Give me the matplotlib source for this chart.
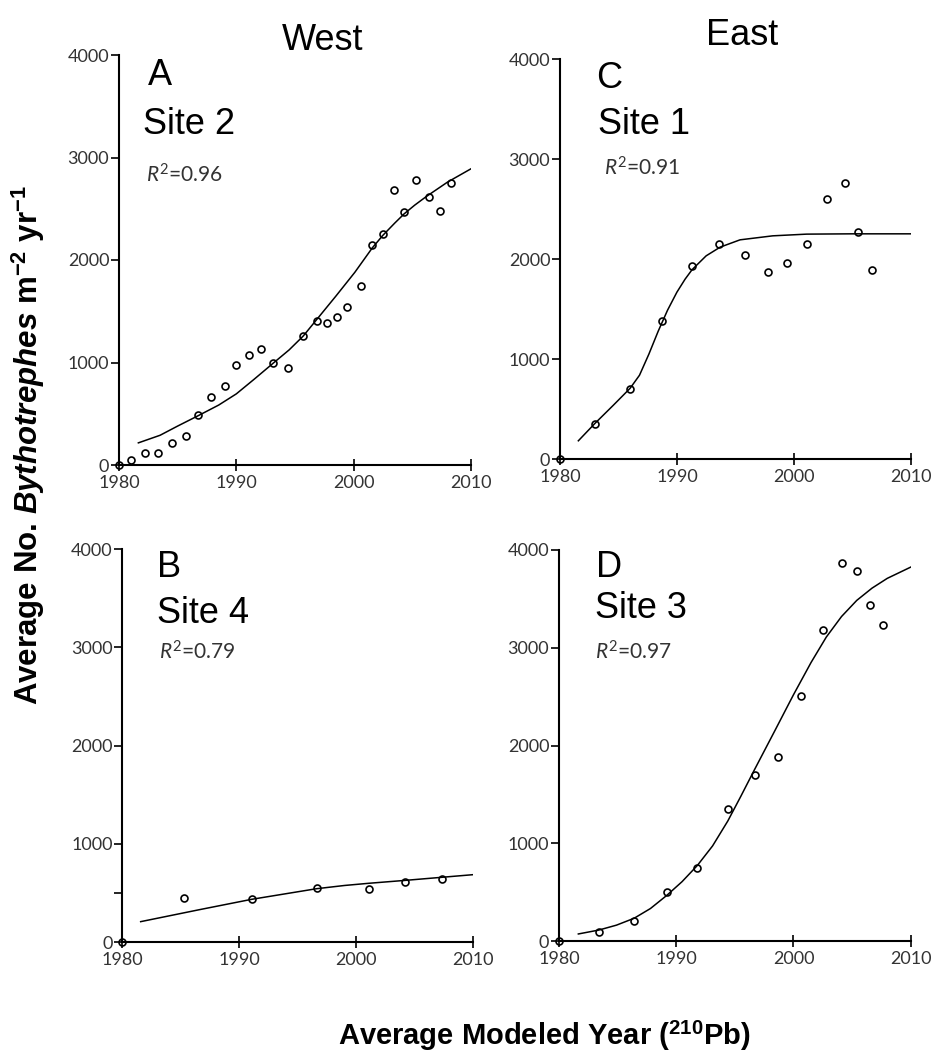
import matplotlib
matplotlib.use('Agg')
import matplotlib.pyplot as plt

plt.rcParams['font.family'] = ['Lato', 'DejaVu Sans']
plt.rcParams['mathtext.fontset'] = 'custom'
plt.rcParams['mathtext.rm'] = 'Lato'
plt.rcParams['mathtext.it'] = 'Lato:italic'
plt.rcParams['mathtext.bf'] = 'Liberation Sans:bold'
plt.rcParams['mathtext.bfit'] = 'Liberation Sans:italic:bold'

# --- data ---
# A, Site 2 (West)
a_year = [1980.0, 1981.0, 1982.2, 1983.3, 1984.5, 1985.7, 1986.7, 1987.8, 1989.0, 1990.0,
          1991.1, 1992.1, 1993.1, 1994.4, 1995.7, 1996.9, 1997.7, 1998.6, 1999.4, 2000.6,
          2001.6, 2002.5, 2003.4, 2004.3, 2005.3, 2006.4, 2007.4, 2008.3]
a_count = [0, 48, 120, 120, 210, 282, 486, 667, 768, 980,
           1069, 1132, 998, 946, 1254, 1402, 1383, 1443, 1540, 1746,
           2150, 2258, 2686, 2471, 2776, 2610, 2478, 2748]
a_fit_year = [1981.65, 1983.5, 1985.0, 1986.8, 1988.5, 1990.0, 1991.5, 1993.15, 1994.5, 1995.7,
              1997.0, 1998.5, 2000.1, 2001.6, 2002.5, 2003.5, 2004.3, 2005.2, 2006.2, 2008.0, 2010.0]
a_fit = [216, 290, 380, 484, 585, 694, 835, 994, 1123, 1258,
         1440, 1650, 1880, 2120, 2242, 2360, 2450, 2535, 2620, 2760, 2890]

# B, Site 4 (West)
b_year = [1980.0, 1985.3, 1991.05, 1996.6, 2001.05, 2004.2, 2007.3]
b_count = [0, 447, 437, 549, 542, 617, 641]
b_fit_year = [1981.57, 1986.6, 1991.05, 1996.6, 1999.0, 2001.05, 2004.2, 2007.0, 2010.0]
b_fit = [210, 332, 437, 545, 578, 600, 630, 658, 688]

# C, Site 1 (East)
c_year = [1980.0, 1983.0, 1986.0, 1988.7, 1991.3, 1993.6, 1995.8, 1997.8, 1999.4, 2001.1,
          2002.8, 2004.4, 2005.5, 2006.7]
c_count = [0, 350, 700, 1377, 1933, 2150, 2043, 1870, 1960, 2150,
           2603, 2760, 2270, 1893]
c_fit_year = [1981.57, 1983.0, 1984.56, 1986.0, 1986.8, 1987.6, 1988.4, 1989.2, 1990.0, 1990.7,
              1991.3, 1992.5, 1993.7, 1995.4, 1998.2, 2001.1, 2005.0, 2010.0]
c_fit = [185, 360, 540, 710, 840, 1050, 1280, 1490, 1670, 1800,
         1895, 2033, 2120, 2193, 2233, 2250, 2253, 2253]

# D, Site 3 (East)
d_year = [1980.0, 1983.4, 1986.4, 1989.2, 1991.8, 1994.4, 1996.7, 1998.7, 2000.6, 2002.5,
          2004.1, 2005.4, 2006.5, 2007.6]
d_count = [0, 99, 211, 507, 752, 1350, 1697, 1884, 2503, 3187,
           3867, 3789, 3442, 3235]
d_fit_year = [1981.65, 1983.4, 1984.9, 1986.4, 1987.8, 1989.2, 1990.5, 1991.8, 1993.1, 1994.4,
              1995.5, 1996.7, 1998.4, 2000.0, 2001.5, 2002.8, 2004.1, 2005.4, 2006.7, 2008.0, 2010.0]
d_fit = [75, 115, 165, 235, 335, 470, 610, 775, 975, 1230,
         1480, 1760, 2150, 2520, 2850, 3110, 3320, 3485, 3610, 3710, 3825]

year_ticks = [1980, 1990, 2000, 2010]
count_ticks = [0, 1000, 2000, 3000, 4000]

W, H = 939, 1053
fig = plt.figure(figsize=(W / 100, H / 100), dpi=100)


def add_panel(left, right, top, bottom):
    return fig.add_axes([left / W, 1 - bottom / H, (right - left) / W, (bottom - top) / H])


def draw(ax, yr, cnt, fyr, fit, letter, site, r2, pos):
    ax.plot(fyr, fit, color='black', lw=1.1)
    ax.plot(yr, cnt, 'o', ms=5, mfc='none', mec='black', mew=1.2, clip_on=False)
    ax.set_xlim(1980, 2010)
    ax.set_ylim(0, 4000)
    ax.set_xticks(year_ticks)
    ax.set_yticks(count_ticks)
    for s in ['top', 'right']:
        ax.spines[s].set_visible(False)
    for s in ['left', 'bottom']:
        ax.spines[s].set_linewidth(1.5)
    ax.tick_params(axis='y', direction='out', length=6, width=1.2, pad=1,
                   labelsize=13, labelcolor='#333333')
    ax.tick_params(axis='x', direction='inout', length=8, width=1.2, pad=3,
                   labelsize=13, labelcolor='#333333')
    (lx, ly), (sx, sy), (rx, ry) = pos
    ax.text(lx, ly, letter, transform=ax.transAxes, fontsize=26,
            family='Liberation Sans', va='baseline')
    ax.text(sx, sy, site, transform=ax.transAxes, fontsize=26,
            family='Liberation Sans', va='baseline')
    ax.text(rx, ry, r'$R^{2}$=' + r2, transform=ax.transAxes, fontsize=15,
            color='#333333', va='baseline')


ax_a = add_panel(119, 471, 55, 465)
ax_c = add_panel(560, 910.7, 59, 459.3)
ax_b = add_panel(122.3, 473.3, 549, 942.3)
ax_d = add_panel(559, 910.7, 550, 941.3)

draw(ax_a, a_year, a_count, a_fit_year, a_fit, 'A', 'Site 2', '0.96',
     [(0.083, 0.927), (0.067, 0.807), (0.078, 0.689)])
draw(ax_c, c_year, c_count, c_fit_year, c_fit, 'C', 'Site 1', '0.91',
     [(0.104, 0.927), (0.109, 0.813), (0.125, 0.710)])
draw(ax_b, b_year, b_count, b_fit_year, b_fit, 'B', 'Site 4', '0.79',
     [(0.098, 0.930), (0.098, 0.811), (0.105, 0.720)])
draw(ax_d, d_year, d_count, d_fit_year, d_fit, 'D', 'Site 3', '0.97',
     [(0.105, 0.932), (0.102, 0.825), (0.102, 0.721)])

# small extra tick on the Site 4 axis
ax_b.set_yticks([500], minor=True)
ax_b.tick_params(axis='y', which='minor', direction='out', length=6, width=1.2)

fig.text(323 / W, 1 - 50 / H, 'West', fontsize=26, family='Liberation Sans',
         ha='center', va='baseline')
fig.text(742 / W, 1 - 45 / H, 'East', fontsize=26, family='Liberation Sans',
         ha='center', va='baseline')

fig.text(28 / W, 1 - 445 / H,
         r'Average No. $\mathbfit{Bythotrephes}$ m$^{\mathbf{-2}}$ yr$^{\mathbf{-1}}$',
         fontsize=22.5, family='Liberation Sans', fontweight='bold', rotation=90,
         ha='center', va='center')
fig.text(544 / W, 1 - 1036 / H, r'Average Modeled Year ($^{\mathbf{210}}$Pb)',
         fontsize=21, family='Liberation Sans', fontweight='bold',
         ha='center', va='center')

fig.savefig('out.png', dpi=100)
